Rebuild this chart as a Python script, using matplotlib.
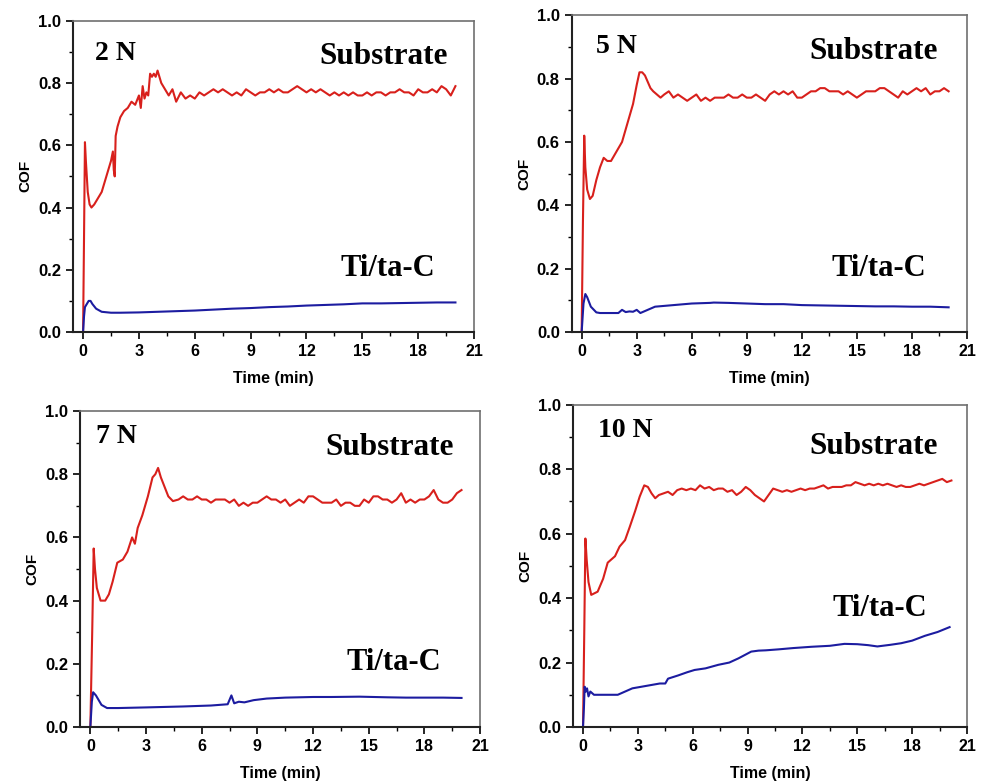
import numpy as np
import matplotlib
matplotlib.use("Agg")
import matplotlib.pyplot as plt
from matplotlib.ticker import MultipleLocator

plt.rcParams['font.family'] = ['Liberation Sans', 'DejaVu Sans']
plt.rcParams['font.weight'] = 'bold'

RED = "#d8201c"
BLUE = "#1c1ca0"
PLATEAU_STEP = 0.25

# ---- 2 N ----
sub_2n_t = [0, 0.05, 0.1, 0.15, 0.25, 0.35, 0.45, 0.6, 0.8, 1.0, 1.2, 1.35, 1.5, 1.6, 1.65,
            1.7, 1.75, 1.85, 2.0, 2.2, 2.4, 2.6, 2.8, 3.0, 3.1, 3.2, 3.3, 3.4, 3.5, 3.6,
            3.7, 3.8, 3.9, 4.0, 4.1, 4.2, 4.4, 4.6, 4.8, 5.0]
sub_2n = [0, 0.3, 0.61, 0.55, 0.45, 0.41, 0.40, 0.41, 0.43, 0.45, 0.49, 0.52, 0.55, 0.58, 0.52,
          0.50, 0.63, 0.66, 0.69, 0.71, 0.72, 0.74, 0.73, 0.76, 0.72, 0.79, 0.75, 0.77, 0.76, 0.83,
          0.82, 0.83, 0.82, 0.84, 0.82, 0.80, 0.78, 0.76, 0.78, 0.74]
sub_2n_plateau_start = 5.25
sub_2n_plateau = [0.77, 0.75, 0.76, 0.75, 0.77, 0.76, 0.77, 0.78, 0.77, 0.78, 0.77, 0.76, 0.77, 0.76,
                  0.78, 0.77, 0.76, 0.77, 0.77, 0.78, 0.77, 0.78, 0.77, 0.77, 0.78, 0.79, 0.78, 0.77,
                  0.78, 0.77, 0.78, 0.77, 0.76, 0.77, 0.76, 0.77, 0.76, 0.77, 0.76, 0.76, 0.77, 0.76,
                  0.77, 0.77, 0.76, 0.77, 0.77, 0.78, 0.77, 0.77, 0.76, 0.78, 0.77, 0.77, 0.78, 0.77,
                  0.79, 0.78, 0.76, 0.79]
film_2n_t = [0, 0.05, 0.1, 0.2, 0.3, 0.4, 0.5, 0.7, 1.0, 1.5, 2, 3, 4, 5, 6, 7, 8, 9, 10, 11,
             12, 13, 14, 15, 16, 17, 18, 19, 20]
film_2n = [0, 0.05, 0.08, 0.09, 0.10, 0.10, 0.09, 0.075, 0.065, 0.062, 0.062, 0.063, 0.065, 0.067,
           0.069, 0.072, 0.075, 0.077, 0.08, 0.082, 0.085, 0.087, 0.089, 0.092, 0.092, 0.093, 0.094,
           0.095, 0.095]

# ---- 5 N ----
sub_5n_t = [0, 0.07, 0.14, 0.2, 0.3, 0.45, 0.6, 0.8, 1.0, 1.2, 1.4, 1.6, 1.8, 2.0, 2.2, 2.4,
            2.6, 2.8, 3.0, 3.15, 3.3, 3.45, 3.6, 3.75, 3.9, 4.1, 4.3, 4.5, 4.75]
sub_5n = [0, 0.35, 0.62, 0.52, 0.45, 0.42, 0.43, 0.48, 0.52, 0.55, 0.54, 0.54, 0.56, 0.58, 0.60,
          0.64, 0.68, 0.72, 0.78, 0.82, 0.82, 0.81, 0.79, 0.77, 0.76, 0.75, 0.74, 0.75, 0.76]
sub_5n_plateau_start = 5.0
sub_5n_plateau = [0.74, 0.75, 0.74, 0.73, 0.74, 0.75, 0.73, 0.74, 0.73, 0.74, 0.74, 0.74, 0.75, 0.74,
                  0.74, 0.75, 0.74, 0.74, 0.75, 0.74, 0.73, 0.75, 0.76, 0.75, 0.76, 0.75, 0.76, 0.74,
                  0.74, 0.75, 0.76, 0.76, 0.77, 0.77, 0.76, 0.76, 0.76, 0.75, 0.76, 0.75, 0.74, 0.75,
                  0.76, 0.76, 0.76, 0.77, 0.77, 0.76, 0.75, 0.74, 0.76, 0.75, 0.76, 0.77, 0.76, 0.77,
                  0.75, 0.76, 0.76, 0.77, 0.76]
film_5n_t = [0, 0.1, 0.2, 0.3, 0.5, 0.8, 1.0, 1.5, 2.0, 2.2, 2.4, 2.6, 2.8, 3.0, 3.2, 3.6, 4.0,
             5, 6, 7, 7.2, 8, 9, 10, 11, 12, 13, 14, 15, 16, 17, 18, 19, 20]
film_5n = [0, 0.09, 0.12, 0.11, 0.08, 0.062, 0.06, 0.06, 0.06, 0.07, 0.063, 0.065, 0.064, 0.07,
           0.06, 0.07, 0.08, 0.085, 0.09, 0.092, 0.093, 0.092, 0.09, 0.088, 0.088, 0.085, 0.084,
           0.083, 0.082, 0.081, 0.081, 0.08, 0.08, 0.078]

# ---- 7 N ----
sub_7n_t = [0, 0.1, 0.18, 0.25, 0.35, 0.55, 0.8, 1.0, 1.2, 1.45, 1.75, 2.0, 2.25, 2.4, 2.55, 2.8,
            3.1, 3.35, 3.5, 3.65, 3.8, 4.0, 4.2, 4.45]
sub_7n = [0, 0.3, 0.565, 0.50, 0.44, 0.40, 0.40, 0.42, 0.46, 0.52, 0.53, 0.555, 0.60, 0.58, 0.63,
          0.67, 0.73, 0.79, 0.80, 0.82, 0.79, 0.76, 0.73, 0.715]
sub_7n_plateau_start = 4.75
sub_7n_plateau = [0.72, 0.73, 0.72, 0.72, 0.73, 0.72, 0.72, 0.71, 0.72, 0.72, 0.72, 0.71, 0.72, 0.70,
                  0.71, 0.70, 0.71, 0.71, 0.72, 0.73, 0.72, 0.72, 0.71, 0.72, 0.70, 0.71, 0.72, 0.71,
                  0.73, 0.73, 0.72, 0.71, 0.71, 0.71, 0.72, 0.70, 0.71, 0.71, 0.70, 0.70, 0.72, 0.71,
                  0.73, 0.73, 0.72, 0.72, 0.71, 0.72, 0.74, 0.71, 0.72, 0.71, 0.72, 0.72, 0.73, 0.75,
                  0.72, 0.71, 0.71, 0.72, 0.74, 0.75]
film_7n_t = [0, 0.08, 0.15, 0.3, 0.6, 0.9, 1.5, 3, 5, 6.5, 7.4, 7.6, 7.75, 8.0, 8.3, 8.8, 9.5,
             10.5, 12, 13, 14.5, 16, 17, 18, 19, 20]
film_7n = [0, 0.08, 0.11, 0.10, 0.07, 0.06, 0.06, 0.062, 0.065, 0.068, 0.072, 0.10, 0.075, 0.08,
           0.078, 0.085, 0.09, 0.093, 0.095, 0.095, 0.096, 0.094, 0.093, 0.093, 0.093, 0.092]

# ---- 10 N ----
sub_10n_t = [0, 0.07, 0.13, 0.2, 0.3, 0.45, 0.8, 1.1, 1.35, 1.55, 1.75, 2.0, 2.3, 2.55, 2.85,
             3.1, 3.35, 3.55, 3.75, 3.95, 4.15]
sub_10n = [0, 0.3, 0.585, 0.52, 0.45, 0.41, 0.42, 0.46, 0.51, 0.52, 0.53, 0.56, 0.58, 0.62, 0.67,
           0.715, 0.75, 0.745, 0.725, 0.71, 0.72]
sub_10n_plateau_start = 4.4
sub_10n_plateau = [0.725, 0.73, 0.72, 0.735, 0.74, 0.735, 0.74, 0.735, 0.75, 0.74, 0.745, 0.735,
                   0.74, 0.74, 0.73, 0.735, 0.72, 0.73, 0.745, 0.735, 0.72, 0.71, 0.70, 0.72, 0.74,
                   0.735, 0.73, 0.735, 0.73, 0.735, 0.74, 0.735, 0.74, 0.74, 0.745, 0.75, 0.74,
                   0.745, 0.745, 0.745, 0.75, 0.75, 0.76, 0.755, 0.75, 0.755, 0.75, 0.755, 0.75,
                   0.755, 0.75, 0.745, 0.75, 0.745, 0.745, 0.75, 0.755, 0.75, 0.755, 0.76, 0.765,
                   0.77, 0.76, 0.765]
film_10n_t = [0, 0.05, 0.09, 0.15, 0.22, 0.3, 0.4, 0.6, 1.0, 1.5, 1.9, 2.3, 2.7, 3.2, 3.7, 4.2,
              4.5, 4.65, 5.2, 5.7, 6.1, 6.7, 7.4, 8.0, 8.5, 8.9, 9.2, 9.6, 10.0, 10.7, 11.5, 12.5,
              13.5, 14.3, 15.0, 15.6, 16.1, 16.8, 17.4, 18.0, 18.7, 19.4, 20.05]
film_10n = [0, 0.06, 0.125, 0.11, 0.12, 0.095, 0.11, 0.10, 0.10, 0.10, 0.10, 0.11, 0.12, 0.125,
            0.13, 0.135, 0.135, 0.15, 0.16, 0.17, 0.177, 0.182, 0.193, 0.20, 0.213, 0.225, 0.234,
            0.237, 0.238, 0.241, 0.245, 0.249, 0.252, 0.258, 0.257, 0.254, 0.25, 0.255, 0.26,
            0.268, 0.283, 0.295, 0.31]

panels = [
    dict(load="2 N", rect=[0.0738, 0.5765, 0.4065, 0.397],
         sub=(sub_2n_t, sub_2n, sub_2n_plateau_start, sub_2n_plateau), film=(film_2n_t, film_2n),
         load_xy=(0.65, 0.895), sub_xy=(19.6, 0.885), film_xy=(18.9, 0.205)),
    dict(load="5 N", rect=[0.5791, 0.5765, 0.4006, 0.404],
         sub=(sub_5n_t, sub_5n, sub_5n_plateau_start, sub_5n_plateau), film=(film_5n_t, film_5n),
         load_xy=(0.8, 0.9), sub_xy=(19.4, 0.885), film_xy=(18.8, 0.2)),
    dict(load="7 N", rect=[0.0812, 0.0727, 0.4052, 0.403],
         sub=(sub_7n_t, sub_7n, sub_7n_plateau_start, sub_7n_plateau), film=(film_7n_t, film_7n),
         load_xy=(0.3, 0.92), sub_xy=(19.6, 0.885), film_xy=(18.9, 0.205)),
    dict(load="10 N", rect=[0.5805, 0.0727, 0.3992, 0.411],
         sub=(sub_10n_t, sub_10n, sub_10n_plateau_start, sub_10n_plateau), film=(film_10n_t, film_10n),
         load_xy=(0.8, 0.92), sub_xy=(19.4, 0.87), film_xy=(18.8, 0.368)),
]

fig = plt.figure(figsize=(9.87, 7.84), dpi=100)
serif = ['Liberation Serif', 'DejaVu Serif']

for p in panels:
    ax = fig.add_axes(p["rect"])
    t_early, v_early, t0, v_plat = p["sub"]
    t_sub = np.concatenate([t_early, t0 + PLATEAU_STEP * np.arange(len(v_plat))])
    v_sub = np.concatenate([v_early, v_plat])
    ax.plot(t_sub, v_sub, color=RED, lw=1.5)
    ax.plot(p["film"][0], p["film"][1], color=BLUE, lw=1.5)

    ax.set_xlim(-0.55, 21)
    ax.set_ylim(0, 1.0)
    ax.xaxis.set_major_locator(MultipleLocator(3))
    ax.xaxis.set_minor_locator(MultipleLocator(1.5))
    ax.yaxis.set_major_locator(MultipleLocator(0.2))
    ax.yaxis.set_minor_locator(MultipleLocator(0.1))
    ax.yaxis.set_major_formatter(plt.FormatStrFormatter('%.1f'))
    ax.tick_params(which='major', direction='out', length=5, width=1.2)
    ax.tick_params(which='minor', direction='out', length=3, width=1)
    ax.tick_params(axis='x', labelsize=11.5)
    ax.tick_params(axis='y', labelsize=12)
    for lab in ax.get_xticklabels() + ax.get_yticklabels():
        lab.set_fontweight('bold')

    for side in ['left', 'bottom']:
        ax.spines[side].set_linewidth(1.5)
        ax.spines[side].set_color('#222222')
    for side in ['top', 'right']:
        ax.spines[side].set_linewidth(1.2)
        ax.spines[side].set_color('#707070')

    ax.set_xlabel("Time (min)", fontsize=11.5, fontweight='bold', labelpad=9)
    ax.set_ylabel("COF", fontsize=11, fontweight='bold', labelpad=4)

    ax.text(*p["load_xy"], p["load"], family=serif, fontsize=20, fontweight='bold',
            ha='left', va='center')
    ax.text(*p["sub_xy"], "Substrate", family=serif, fontsize=22.5, fontweight='bold',
            ha='right', va='center')
    ax.text(*p["film_xy"], "Ti/ta-C", family=serif, fontsize=22, fontweight='bold',
            ha='right', va='center')

fig.savefig("out.png", dpi=100)
